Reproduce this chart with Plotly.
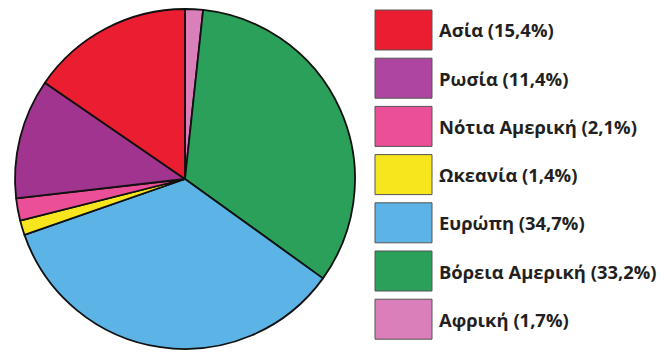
import plotly.graph_objects as go

# Slices, listed clockwise from 12 o'clock
regions = ["Αφρική", "Βόρεια Αμερική", "Ευρώπη", "Ωκεανία", "Νότια Αμερική", "Ρωσία", "Ασία"]
shares = [1.7, 33.2, 34.7, 1.4, 2.1, 11.4, 15.4]
colors = ["#DB7FBA", "#2BA05B", "#5BB4E5", "#F7E51E", "#EA4F98", "#A0348F", "#EB1D30"]

# Legend order (top to bottom)
legend_order = ["Ασία", "Ρωσία", "Νότια Αμερική", "Ωκεανία", "Ευρώπη", "Βόρεια Αμερική", "Αφρική"]
legend_colors = {"Αφρική": "#DA7FBA", "Βόρεια Αμερική": "#2BA05B", "Ευρώπη": "#5BB4E5",
                 "Ωκεανία": "#F7E51E", "Νότια Αμερική": "#EA4F98", "Ρωσία": "#AE45A0",
                 "Ασία": "#EB1D30"}

W, H = 664, 352

def fx(px):
    return px / W

def fy(py):
    return 1 - py / H

fig = go.Figure(go.Pie(
    labels=regions,
    values=shares,
    sort=False,
    direction="clockwise",
    rotation=0,
    textinfo="none",
    hoverinfo="label+value",
    marker=dict(colors=colors, line=dict(color="#111111", width=1.8)),
    domain=dict(x=[fx(15), fx(355)], y=[fy(349), fy(9)]),
    showlegend=False,
))

shares_by_name = dict(zip(regions, shares))
shapes = []
annotations = []
box_x0, box_x1 = 375, 432
box_h = 40
top0, step = 10, 48.2
for i, name in enumerate(legend_order):
    y0 = top0 + i * step
    shapes.append(dict(
        type="rect", xref="paper", yref="paper",
        x0=fx(box_x0), x1=fx(box_x1), y0=fy(y0 + box_h), y1=fy(y0),
        fillcolor=legend_colors[name], line=dict(color="#555555", width=1),
    ))
    label = f"{name} ({str(shares_by_name[name]).replace('.', ',')}%)"
    annotations.append(dict(
        text=f"<b>{label}</b>", xref="paper", yref="paper",
        x=fx(437), y=fy(y0 + box_h / 2), xanchor="left", yanchor="middle",
        showarrow=False, font=dict(family="Open Sans", size=18.4, color="#231F20"),
    ))

fig.update_layout(
    width=W, height=H,
    margin=dict(l=0, r=0, t=0, b=0),
    paper_bgcolor="white", plot_bgcolor="white",
    shapes=shapes, annotations=annotations,
)

fig.write_html("out.html")
